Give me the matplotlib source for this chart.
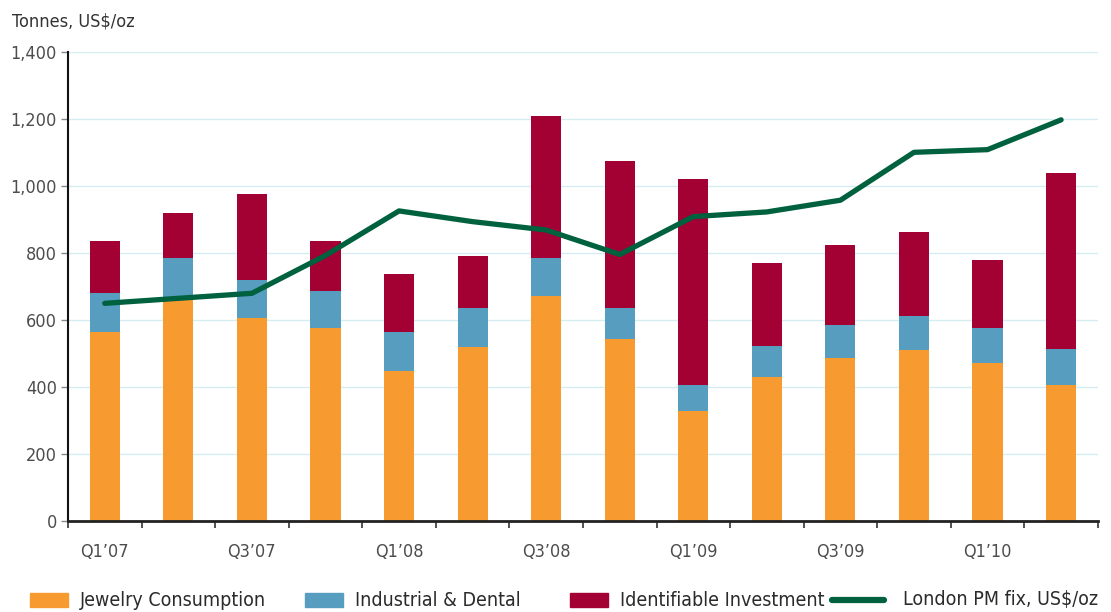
import numpy as np
import matplotlib.pyplot as plt
from matplotlib.patches import Rectangle
from matplotlib.lines import Line2D

plt.rcParams['font.family'] = ['DejaVu Sans']
plt.rcParams['font.stretch'] = 'condensed'

# quarters Q1'07 .. Q2'10
quarters = ["Q1'07", "Q2'07", "Q3'07", "Q4'07", "Q1'08", "Q2'08", "Q3'08",
            "Q4'08", "Q1'09", "Q2'09", "Q3'09", "Q4'09", "Q1'10", "Q2'10"]
jewelry = [564, 659, 605, 576, 448, 520, 671, 545, 328, 429, 487, 510, 473, 406]
industrial = [116, 125, 116, 111, 116, 117, 113, 90, 77, 94, 97, 103, 103, 107]
investment = [156, 136, 256, 150, 173, 155, 424, 439, 617, 246, 239, 251, 202, 527]
pm_fix = [650, 665, 680, 793, 926, 894, 869, 796, 909, 923, 958, 1101, 1109, 1198]
tick_labels = ["Q1\u201907", "Q3\u201907", "Q1\u201908", "Q3\u201908",
               "Q1\u201909", "Q3\u201909", "Q1\u201910"]

c_jew = '#f79b31'
c_ind = '#579dc0'
c_inv = '#a30034'
c_pm = '#00613f'

fig = plt.figure(figsize=(11.11, 6.12), dpi=100)
ax = fig.add_axes([0.0612, 0.1487, 0.927, 0.766])

x = np.arange(len(quarters))
w = 0.41
jew = np.array(jewelry)
ind = np.array(industrial)
inv = np.array(investment)
ax.bar(x, jew, w, color=c_jew, zorder=2)
ax.bar(x, ind, w, bottom=jew, color=c_ind, zorder=2)
ax.bar(x, inv, w, bottom=jew + ind, color=c_inv, zorder=2)
ax.plot(x, pm_fix, color=c_pm, lw=3.8, solid_capstyle='round',
        solid_joinstyle='round', zorder=3)

ax.set_xlim(-0.5, len(quarters) - 0.5)
ax.set_ylim(0, 1400)
ax.set_yticks(range(0, 1401, 200))
ax.set_yticklabels([f'{v:,}' for v in range(0, 1401, 200)])
ax.yaxis.grid(True, color='#d5ecf3', lw=1)
ax.set_axisbelow(True)

ax.set_xticks(x[::2])
ax.set_xticklabels(tick_labels)
ax.set_xticks(np.arange(-0.5, len(quarters)), minor=True)
ax.tick_params(axis='x', which='major', length=0, pad=16, labelsize=13, labelcolor='#4d4d4d')
ax.tick_params(axis='x', which='minor', length=5, width=1.2, color='#333333', direction='out')
ax.tick_params(axis='y', length=5, width=1, color='#888888', pad=3, labelsize=13, labelcolor='#4d4d4d')

for s in ['top', 'right']:
    ax.spines[s].set_visible(False)
ax.spines['left'].set_color('#111111')
ax.spines['left'].set_linewidth(1.5)
ax.spines['bottom'].set_color('#222222')
ax.spines['bottom'].set_linewidth(2)

fig.text(0.011, 0.957, 'Tonnes, US$/oz', fontsize=13, color='#333333', va='baseline')

# legend along the bottom
H = 612.0
W = 1111.0
ly = 600
entries = [(30, 'patch', c_jew, 'Jewelry Consumption'),
           (305, 'patch', c_ind, 'Industrial & Dental'),
           (570, 'patch', c_inv, 'Identifiable Investment'),
           (830, 'line', c_pm, 'London PM fix, US$/oz')]
for px, kind, col, lab in entries:
    if kind == 'patch':
        fig.add_artist(Rectangle((px / W, (H - ly - 7) / H), 38 / W, 14 / H,
                                 color=col, transform=fig.transFigure))
        tx = px + 50
    else:
        fig.add_artist(Line2D([(px + 2) / W, (px + 54) / W], [(H - ly) / H] * 2,
                              color=col, lw=4.5, solid_capstyle='round',
                              transform=fig.transFigure))
        tx = px + 73
    fig.text(tx / W, (H - ly) / H, lab, fontsize=14, color='#2b2b2b', va='center')

fig.savefig('out.png', dpi=100)
